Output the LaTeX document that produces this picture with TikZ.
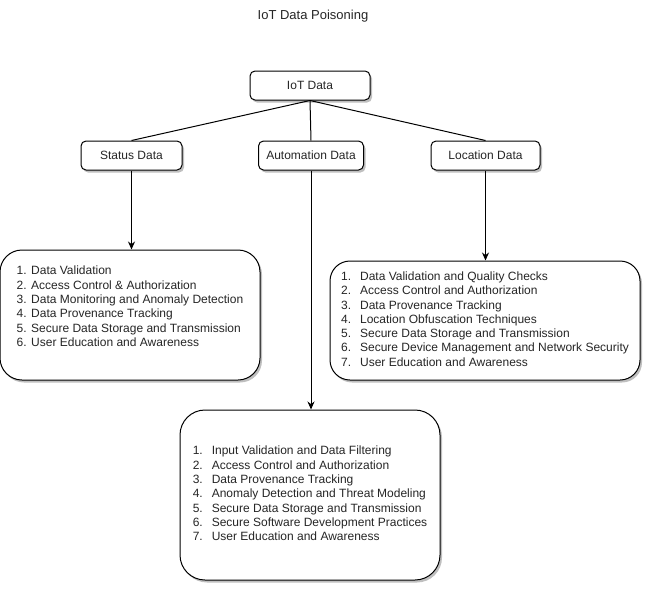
\documentclass[tikz,border=0pt]{standalone}
\usepackage{fontspec}
\setmainfont{Liberation Sans}
\usetikzlibrary{arrows.meta,shadows}
\begin{document}
\begin{tikzpicture}[x=1pt,y=-1pt,
  every node/.style={font=\fontsize{12}{14.3}\selectfont, text=black!85},
  shade/.style={drop shadow={shadow xshift=2pt,shadow yshift=-2.5pt,opacity=0.25,fill=black}},
  smallbox/.style={draw=black, line width=1pt, rounded corners=5pt, fill=white, shade, inner sep=0pt, minimum height=29pt},
  bigbox/.style={draw=black, line width=1pt, fill=white, shade, inner sep=0pt, align=left},
  link/.style={draw=black, line width=1pt},
  arrow/.style={link, -{Stealth[length=8pt,width=7pt]}}
]
\useasboundingbox[fill=white] (0,0) rectangle (652,592);

\node[font=\fontsize{13}{15}\selectfont] (title) at (313,16) {IoT Data Poisoning};

\node[smallbox, minimum width=120pt] (iot) at (310,85.5) {IoT Data};
\node[smallbox, minimum width=101pt] (status) at (131.5,155.5) {Status Data};
\node[smallbox, minimum width=105pt] (auto) at (311,155.5) {Automation Data};
\node[smallbox, minimum width=109pt] (loc) at (485.5,155.5) {Location Data};

\node[bigbox, rounded corners=22pt, minimum width=260pt, minimum height=130pt] (statuslist) at (130,315)
 {\begin{tabular}{@{}l@{}}
  1. Data Validation\\
  2. Access Control \& Authorization\\
  3. Data Monitoring and Anomaly Detection\\
  4. Data Provenance Tracking\\
  5. Secure Data Storage and Transmission\\
  6. User Education and Awareness\\
  \mbox{}
  \end{tabular}};

\node[bigbox, rounded corners=20pt, minimum width=310pt, minimum height=119pt] (loclist) at (485,320.5)
 {\begin{tabular}{@{}l@{\hspace{9pt}}l@{}}
  1. & Data Validation and Quality Checks\\
  2. & Access Control and Authorization\\
  3. & Data Provenance Tracking\\
  4. & Location Obfuscation Techniques\\
  5. & Secure Data Storage and Transmission\\
  6. & Secure Device Management and Network Security\\
  7. & User Education and Awareness
  \end{tabular}};

\node[bigbox, rounded corners=25pt, minimum width=260pt, minimum height=170pt] (autolist) at (310,495)
 {\begin{tabular}{@{}l@{\hspace{9pt}}l@{}}
  1. & Input Validation and Data Filtering\\
  2. & Access Control and Authorization\\
  3. & Data Provenance Tracking\\
  4. & Anomaly Detection and Threat Modeling\\
  5. & Secure Data Storage and Transmission\\
  6. & Secure Software Development Practices\\
  7. & User Education and Awareness
  \end{tabular}};

\draw[link] (iot.south) -- (status.north);
\draw[link] (iot.south) -- (auto.north);
\draw[link] (iot.south) -- (loc.north);

\draw[arrow] (status.south) -- (statuslist.north -| status.south);
\draw[arrow] (loc.south) -- (loclist.north -| loc.south);
\draw[arrow] (auto.south) -- (autolist.north -| auto.south);
\end{tikzpicture}
\end{document}
